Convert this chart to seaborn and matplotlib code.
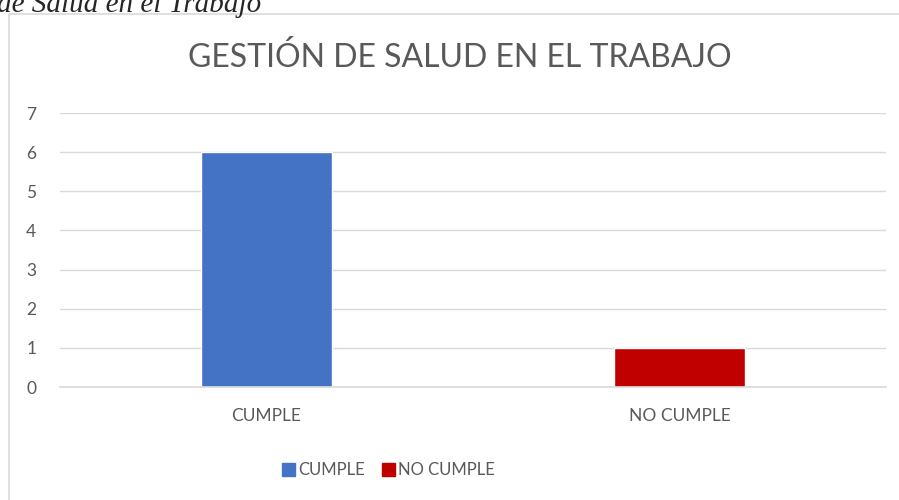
import pandas as pd
import matplotlib.pyplot as plt
import seaborn as sns
from matplotlib.patches import Rectangle

# datos
categorias = ['CUMPLE', 'NO CUMPLE']
valores = [6, 1]
colores = ['#4472C4', '#C00000']

df = pd.DataFrame({'categoria': categorias, 'valor': valores})

sns.set_style('white')
plt.rcParams['font.family'] = ['Lato', 'DejaVu Sans']

fig = plt.figure(figsize=(8.99, 5.0), dpi=100)
ax = fig.add_axes([0.0667, 0.226, 0.9188, 0.548])

sns.barplot(data=df, x='categoria', y='valor', hue='categoria',
            palette=colores, width=0.315, dodge=False, legend=False, ax=ax,
            saturation=1)

ax.set_ylim(0, 7)
ax.set_xlim(-0.5, 1.5)
ax.set_yticks(range(0, 8))
ax.yaxis.grid(True, color='#d9d9d9', linewidth=1)
ax.set_axisbelow(True)
for s in ['top', 'right', 'left']:
    ax.spines[s].set_visible(False)
ax.spines['bottom'].set_color('#d9d9d9')
ax.spines['bottom'].set_linewidth(1.2)
ax.tick_params(axis='both', length=0, labelsize=12.5, labelcolor='#595959')
ax.tick_params(axis='y', pad=17)
ax.tick_params(axis='x', pad=15)
ax.set_xlabel('')
ax.set_ylabel('')

# titulo
fig.text(0.512, 0.885, 'GESTIÓN DE SALUD EN EL TRABAJO', ha='center', va='center',
         fontsize=23, color='#595959')

# texto cortado arriba (viene del documento original)
fig.text(-0.003, 0.975, 'de Salud en el Trabajo', fontsize=21, style='italic',
         family='Liberation Serif', ha='left', va='baseline')

# marco del grafico
fig.patches.append(Rectangle((9 / 899, -0.01), 0.999, 1 - 14 / 500 + 0.01,
                             transform=fig.transFigure, fill=False,
                             edgecolor='#d9d9d9', linewidth=1.2))

# leyenda
handles = [Rectangle((0, 0), 1, 1, color=c) for c in colores]
fig.legend(handles, categorias, loc='center', bbox_to_anchor=(0.432, 0.06), ncol=2,
           frameon=False, fontsize=12, handlelength=0.8, handleheight=0.8,
           handletextpad=0.2, columnspacing=1.0, labelcolor='#595959')

fig.savefig('out.png', dpi=100)
